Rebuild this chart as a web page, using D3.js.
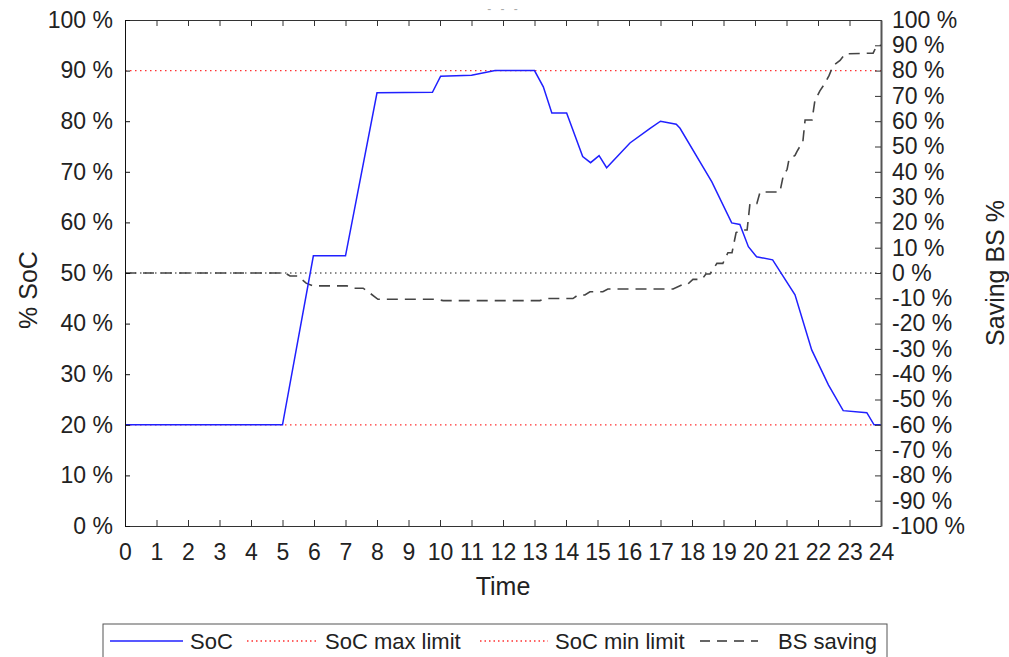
<!DOCTYPE html>
<html>
<head>
<meta charset="utf-8">
<script src="https://cdn.jsdelivr.net/npm/d3@7"></script>
<style>
  body { margin: 0; background: #fff; }
  svg { display: block; font-family: "Liberation Sans", Arial, sans-serif; }
</style>
</head>
<body>
<script>
// datos
var hoursTicks = d3.range(0, 25);
var socTicks = d3.range(0, 101, 10);
var savingTicks = d3.range(-100, 101, 10);

var socHours = [0, 5, 5.98, 7, 8, 9.76, 10.02, 11, 11.75, 13, 13.28, 13.55, 14.02, 14.53, 14.78, 15.05, 15.29, 16.03, 16.67, 17, 17.5, 17.62, 18.63, 19.26, 19.52, 19.79, 20.05, 20.56, 21.27, 21.8, 22.33, 22.8, 23.55, 23.78, 24];
var socValues = [20, 20, 53.4, 53.4, 85.6, 85.7, 88.9, 89.1, 90, 90, 86.8, 81.6, 81.6, 73, 71.8, 73.2, 70.8, 75.7, 78.6, 80, 79.4, 78.6, 68, 59.9, 59.6, 55.2, 53.2, 52.6, 45.7, 34.8, 27.9, 22.8, 22.4, 20, 20];

var bsHours = [0, 5.08, 5.24, 5.49, 5.75, 5.97, 7.05, 7.24, 7.56, 7.78, 8.03, 9.9, 10.1, 13.17, 13.33, 14.22, 14.38, 14.6, 14.76, 15.17, 15.33, 17.4, 17.68, 17.84, 18.03, 18.32, 18.44, 18.57, 18.79, 18.98, 19.14, 19.27, 19.4, 19.59, 19.75, 19.84, 20.06, 20.16, 20.79, 20.89, 21.02, 21.08, 21.27, 21.33, 21.52, 21.59, 21.81, 21.9, 22.06, 22.22, 22.35, 22.48, 22.7, 22.86, 23.75, 23.87, 24];
var bsValues = [0, 0, -1.2, -1.2, -4, -5.1, -5.1, -6, -6, -8, -10.4, -10.4, -10.9, -10.9, -10.1, -10.1, -8.7, -8.7, -7.4, -7.4, -6.3, -6.3, -4.7, -4.7, -2.5, -2.5, -0.4, -0.4, 3.8, 3.8, 8, 8, 16, 17, 17, 27.5, 27.5, 32, 32, 38, 41, 45, 46.5, 48, 52, 60.5, 60.5, 68, 72, 75, 78, 82, 84, 86.6, 86.9, 90, 90];

var socMax = 90;
var socMin = 20;

var legendNames = ["SoC", "SoC max limit", "SoC min limit", "BS saving"];

var width = 1009, height = 657;
var margin = {top: 20, left: 125, right: 128, bottom: 131};

var svg = d3.select("body").append("svg")
  .attr("width", width)
  .attr("height", height);

var x = d3.scaleLinear().domain([0, 24]).range([margin.left, width - margin.right]);
var yL = d3.scaleLinear().domain([0, 100]).range([height - margin.bottom, margin.top]);
var yR = d3.scaleLinear().domain([-100, 100]).range([height - margin.bottom, margin.top]);

var x0 = x(0), x1 = x(24), yTop = yL(100), yBot = yL(0);

// lineas de referencia
svg.append("line")
  .attr("x1", x0).attr("x2", x1)
  .attr("y1", yR(0)).attr("y2", yR(0))
  .attr("stroke", "#666").attr("stroke-width", 1.3)
  .attr("stroke-dasharray", "1.5,3.5");

[socMax, socMin].forEach(function (v) {
  svg.append("line")
    .attr("x1", x0).attr("x2", x1)
    .attr("y1", yL(v)).attr("y2", yL(v))
    .attr("stroke", "#ff3030").attr("stroke-width", 1.3)
    .attr("stroke-dasharray", "1.5,3.5");
});

// BS saving (eje derecho)
var bsData = bsHours.map(function (h, i) { return [h, bsValues[i]]; });
svg.append("path")
  .datum(bsData)
  .attr("fill", "none")
  .attr("stroke", "#444")
  .attr("stroke-width", 1.6)
  .attr("stroke-dasharray", "11,7")
  .attr("d", d3.line().x(d => x(d[0])).y(d => yR(d[1])));

// SoC (eje izquierdo)
var socData = socHours.map(function (h, i) { return [h, socValues[i]]; });
svg.append("path")
  .datum(socData)
  .attr("fill", "none")
  .attr("stroke", "#2020ff")
  .attr("stroke-width", 1.5)
  .attr("d", d3.line().x(d => x(d[0])).y(d => yL(d[1])));

// ejes
var gx = svg.append("g")
  .attr("transform", "translate(0," + yBot + ")")
  .call(d3.axisBottom(x).tickValues(hoursTicks).tickSize(-6).tickPadding(18).tickSizeOuter(0));
var gxTop = svg.append("g")
  .attr("transform", "translate(0," + yTop + ")")
  .call(d3.axisTop(x).tickValues(hoursTicks).tickSize(-6).tickSizeOuter(0).tickFormat(""));
var gl = svg.append("g")
  .attr("transform", "translate(" + x0 + ",0)")
  .call(d3.axisLeft(yL).tickValues(socTicks).tickSize(-5).tickPadding(12).tickSizeOuter(0).tickFormat(d => d + " %"));
var gr = svg.append("g")
  .attr("transform", "translate(" + x1 + ",0)")
  .call(d3.axisRight(yR).tickValues(savingTicks).tickSize(-6).tickPadding(11).tickSizeOuter(0).tickFormat(d => d + " %"));

[gx, gxTop, gl, gr].forEach(function (g) {
  g.selectAll("text").attr("font-size", 23).attr("fill", "#222").attr("font-family", null);
  g.attr("font-family", null);
});
gx.selectAll(".domain, line").attr("stroke", "#333");
gxTop.selectAll(".domain, line").attr("stroke", "#333");
gl.selectAll(".domain, line").attr("stroke", "#111");
gr.selectAll(".domain").attr("stroke", "#555").attr("stroke-width", 2);
gr.selectAll("line").attr("stroke", "#333");

// titulos de ejes
svg.append("text")
  .attr("x", (x0 + x1) / 2).attr("y", 595)
  .attr("text-anchor", "middle").attr("font-size", 25).attr("fill", "#222")
  .text("Time");
svg.append("text")
  .attr("transform", "translate(37," + (yL(50) + 17) + ") rotate(-90)")
  .attr("text-anchor", "middle").attr("font-size", 25).attr("fill", "#222")
  .text("% SoC");
svg.append("text")
  .attr("transform", "translate(1004," + (yR(0)) + ") rotate(-90)")
  .attr("text-anchor", "middle").attr("font-size", 25).attr("fill", "#222")
  .text("Saving BS %");

// titulo casi invisible arriba
svg.append("text")
  .attr("x", 504).attr("y", 13)
  .attr("text-anchor", "middle").attr("font-size", 12).attr("fill", "#aaa")
  .attr("letter-spacing", 3)
  .text("-   -   -");

// leyenda
var leg = svg.append("g");
leg.append("rect")
  .attr("x", 103).attr("y", 624).attr("width", 784).attr("height", 45)
  .attr("fill", "#fff").attr("stroke", "#555").attr("stroke-width", 1);

var legItems = [
  {x: 110, w: 73, tx: 190, stroke: "#2020ff", dash: null, sw: 1.5},
  {x: 247, w: 71, tx: 325, stroke: "#ff3030", dash: "1.5,3", sw: 1.3},
  {x: 480, w: 68, tx: 555, stroke: "#ff3030", dash: "1.5,3", sw: 1.3},
  {x: 700, w: 58, tx: 778, stroke: "#333", dash: "10,7", sw: 1.5}
];
legItems.forEach(function (it, i) {
  leg.append("line")
    .attr("x1", it.x).attr("x2", it.x + it.w)
    .attr("y1", 641).attr("y2", 641)
    .attr("stroke", it.stroke).attr("stroke-width", it.sw)
    .attr("stroke-dasharray", it.dash);
  leg.append("text")
    .attr("x", it.tx).attr("y", 649)
    .attr("font-size", 22).attr("fill", "#222")
    .text(legendNames[i]);
});
</script>
</body>
</html>
